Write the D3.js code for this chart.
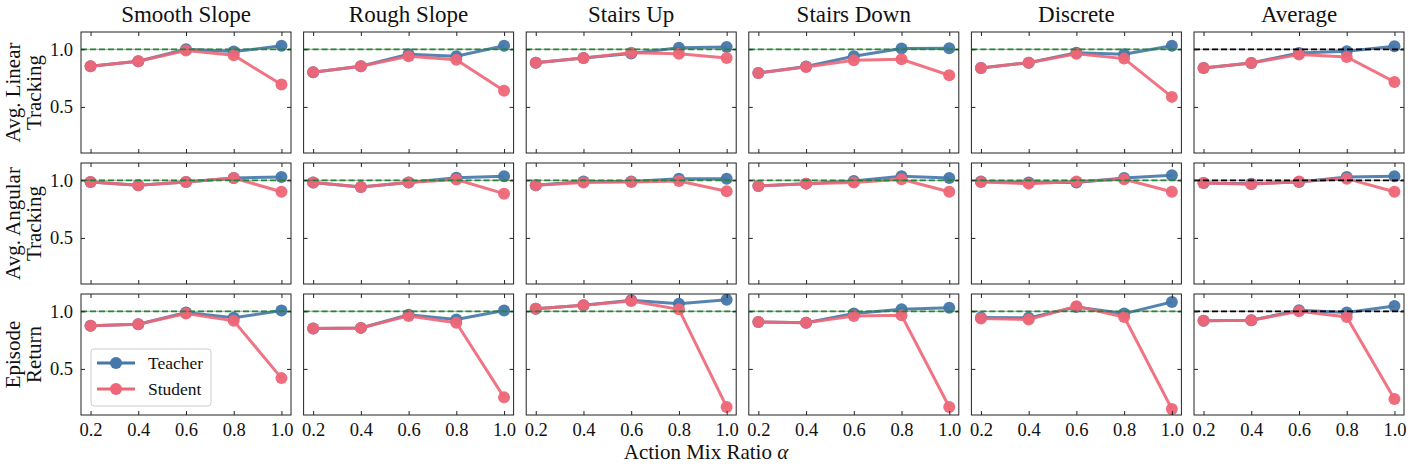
<!DOCTYPE html>
<html>
<head>
<meta charset="utf-8">
<script src="https://cdn.jsdelivr.net/npm/d3@7"></script>
<style>
  body { margin: 0; background: #fff; }
  text { font-family: "Liberation Serif", "DejaVu Serif", serif; fill: #111; }
  .axis path, .axis line { stroke: #222; }
</style>
</head>
<body>
<div id="chart"></div>
<script>
// valores
const alphas = [0.2, 0.4, 0.6, 0.8, 1.0]
const terrenos = ["Smooth Slope", "Rough Slope", "Stairs Up", "Stairs Down", "Discrete", "Average"]
const metricas = [["Avg. Linear", "Tracking"], ["Avg. Angular", "Tracking"], ["Episode", "Return"]]
const yTicks = [0.5, 1.0]

const teacherLinear = [
  [0.853, 0.896, 1.00, 0.98, 1.03],
  [0.80, 0.853, 0.957, 0.94, 1.03],
  [0.884, 0.925, 0.963, 1.014, 1.02],
  [0.795, 0.85, 0.94, 1.006, 1.008],
  [0.838, 0.884, 0.97, 0.957, 1.03],
  [0.838, 0.881, 0.968, 0.983, 1.026]
]
const studentLinear = [
  [0.853, 0.896, 0.99, 0.948, 0.694],
  [0.80, 0.853, 0.94, 0.91, 0.64],
  [0.884, 0.925, 0.971, 0.962, 0.925],
  [0.795, 0.847, 0.905, 0.913, 0.775],
  [0.838, 0.884, 0.962, 0.919, 0.587],
  [0.838, 0.881, 0.954, 0.933, 0.717]
]
const teacherAngular = [
  [0.986, 0.957, 0.986, 1.02, 1.029],
  [0.98, 0.942, 0.98, 1.023, 1.035],
  [0.957, 0.99, 0.99, 1.014, 1.014],
  [0.95, 0.971, 0.994, 1.035, 1.02],
  [0.99, 0.98, 0.98, 1.02, 1.043],
  [0.977, 0.97, 0.986, 1.029, 1.035]
]
const studentAngular = [
  [0.986, 0.957, 0.986, 1.02, 0.90],
  [0.98, 0.942, 0.98, 1.006, 0.884],
  [0.957, 0.98, 0.986, 0.994, 0.905],
  [0.95, 0.971, 0.98, 1.009, 0.90],
  [0.986, 0.971, 0.99, 1.009, 0.90],
  [0.977, 0.965, 0.99, 1.014, 0.90]
]
const teacherReturn = [
  [0.874, 0.888, 0.989, 0.943, 1.006],
  [0.85, 0.856, 0.97, 0.928, 1.006],
  [1.023, 1.052, 1.095, 1.066, 1.10],
  [0.908, 0.90, 0.98, 1.017, 1.03],
  [0.945, 0.943, 1.037, 0.98, 1.08],
  [0.917, 0.922, 1.009, 0.989, 1.046]
]
const studentReturn = [
  [0.874, 0.888, 0.98, 0.917, 0.42],
  [0.85, 0.856, 0.96, 0.90, 0.253],
  [1.023, 1.052, 1.089, 1.017, 0.17],
  [0.908, 0.90, 0.96, 0.966, 0.17],
  [0.937, 0.928, 1.043, 0.951, 0.152],
  [0.917, 0.922, 1.0, 0.951, 0.238]
]

const teacherRows = [teacherLinear, teacherAngular, teacherReturn]
const studentRows = [studentLinear, studentAngular, studentReturn]

const ancho = 1412
const alto = 472
const margen = { izquierdo: 81, derecho: 8, superior: 32, inferior: 57 }
const hueco = { x: 12.6, y: 10 }

const colorTeacher = "#4477AA"
const colorStudent = "#EE6677"
const colorVerde = "#228833"

const anchoPanel = (ancho - margen.izquierdo - margen.derecho - 5 * hueco.x) / 6
const altoPanel = (alto - margen.superior - margen.inferior - 2 * hueco.y) / 3

const x = d3.scaleLinear().domain([0.16, 1.04]).range([0, anchoPanel])
const y = d3.scaleLinear().domain([0.1, 1.15]).range([altoPanel, 0])

const svg = d3.select("#chart").append("svg").attr("width", ancho).attr("height", alto)

const linea = d3.line().x((d, i) => x(alphas[i])).y(d => y(d))

metricas.forEach((met, r) => {
  terrenos.forEach((ter, c) => {
    const px = margen.izquierdo + c * (anchoPanel + hueco.x)
    const py = margen.superior + r * (altoPanel + hueco.y)
    const g = svg.append("g").attr("transform", `translate(${px}, ${py})`)

    const clip = `clip-${r}-${c}`
    g.append("clipPath").attr("id", clip).append("rect")
      .attr("width", anchoPanel).attr("height", altoPanel)

    const datos = g.append("g").attr("clip-path", `url(#${clip})`)

    const series = [
      { valores: teacherRows[r][c], color: colorTeacher },
      { valores: studentRows[r][c], color: colorStudent }
    ]
    series.forEach(s => {
      datos.append("path").datum(s.valores)
        .attr("d", linea)
        .attr("fill", "none")
        .attr("stroke", s.color)
        .attr("stroke-width", 3)
        .attr("stroke-opacity", 0.9)
      datos.selectAll(null).data(s.valores).enter().append("circle")
        .attr("cx", (d, i) => x(alphas[i]))
        .attr("cy", d => y(d))
        .attr("r", 6)
        .attr("fill", s.color)
        .attr("fill-opacity", 0.95)
    })

    // linea de referencia en 1.0
    datos.append("line")
      .attr("x1", 0).attr("x2", anchoPanel)
      .attr("y1", y(1.0)).attr("y2", y(1.0))
      .attr("stroke", "#666").attr("stroke-width", 0.6)
    datos.append("line")
      .attr("x1", 0).attr("x2", anchoPanel)
      .attr("y1", y(1.0)).attr("y2", y(1.0))
      .attr("stroke", c == 5 ? "#000" : colorVerde)
      .attr("stroke-width", 1.7)
      .attr("stroke-dasharray", "6,3")

    // ejes con marcas hacia dentro
    const ejeAbajo = d3.axisBottom(x).tickValues(alphas).tickSizeInner(-4).tickSizeOuter(0).tickPadding(8)
      .tickFormat(r == 2 ? d3.format(".1f") : () => "")
    const ejeArriba = d3.axisTop(x).tickValues(alphas).tickSizeInner(-4).tickSizeOuter(0).tickFormat(() => "")
    const ejeIzq = d3.axisLeft(y).tickValues(yTicks).tickSizeInner(-4).tickSizeOuter(0).tickPadding(8)
      .tickFormat(c == 0 ? d3.format(".1f") : () => "")
    const ejeDer = d3.axisRight(y).tickValues(yTicks).tickSizeInner(-4).tickSizeOuter(0).tickFormat(() => "")

    g.append("g").attr("class", "axis").attr("transform", `translate(0, ${altoPanel})`).call(ejeAbajo)
    g.append("g").attr("class", "axis").call(ejeArriba)
    g.append("g").attr("class", "axis").call(ejeIzq)
    g.append("g").attr("class", "axis").attr("transform", `translate(${anchoPanel}, 0)`).call(ejeDer)
    g.selectAll(".axis text").attr("font-size", 18.5).attr("font-family", "Liberation Serif").attr("fill", "#111")
    g.selectAll(".axis .domain").remove()

    g.append("rect").attr("width", anchoPanel).attr("height", altoPanel)
      .attr("fill", "none").attr("stroke", "#222").attr("stroke-width", 1)

    if (r == 0) {
      g.append("text").attr("x", anchoPanel / 2).attr("y", -10)
        .attr("text-anchor", "middle").attr("font-size", 23).text(ter)
    }

    if (c == 0) {
      const etiqueta = g.append("text")
        .attr("transform", `translate(-61, ${altoPanel / 2}) rotate(-90)`)
        .attr("text-anchor", "middle").attr("font-size", 21)
      etiqueta.append("tspan").attr("x", 0).attr("dy", 0).text(met[0])
      etiqueta.append("tspan").attr("x", 0).attr("dy", 20.5).text(met[1])
    }

    if (r == 2 && c == 0) {
      const leyenda = g.append("g").attr("transform", "translate(10, 55)")
      leyenda.append("rect").attr("width", 120).attr("height", 57).attr("rx", 3)
        .attr("fill", "#fff").attr("fill-opacity", 0.8).attr("stroke", "#ccc")
      ;[["Teacher", colorTeacher], ["Student", colorStudent]].forEach((e, i) => {
        const ly = 14 + i * 26
        leyenda.append("line").attr("x1", 6).attr("x2", 44).attr("y1", ly).attr("y2", ly)
          .attr("stroke", e[1]).attr("stroke-width", 3)
        leyenda.append("circle").attr("cx", 25).attr("cy", ly).attr("r", 6).attr("fill", e[1])
        leyenda.append("text").attr("x", 57).attr("y", ly + 6).attr("font-size", 17.5).text(e[0])
      })
    }
  })
})

svg.append("text").attr("x", ancho / 2).attr("y", 459)
  .attr("text-anchor", "middle").attr("font-size", 21)
  .text("Action Mix Ratio ")
  .append("tspan").attr("font-style", "italic").text("α")
</script>
</body>
</html>
